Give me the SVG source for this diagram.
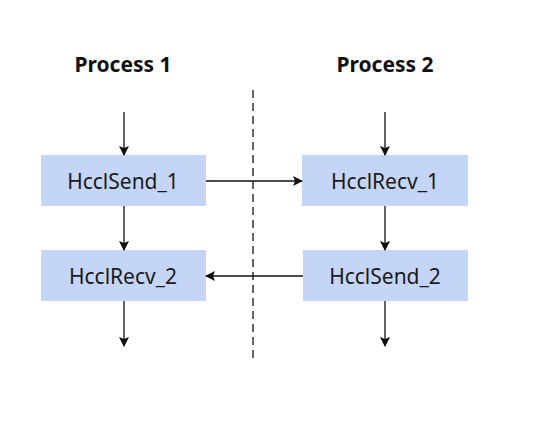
<svg xmlns="http://www.w3.org/2000/svg" width="554" height="429" viewBox="0 0 554 429">
<style>
.box{fill:#c4d5f8;}
.lbl{font-family:"Noto Sans","Open Sans",sans-serif;font-size:21px;fill:#1a1a1a;text-anchor:middle;}
.ttl{font-family:"Noto Sans","Open Sans",sans-serif;font-size:21px;font-weight:bold;fill:#111;text-anchor:middle;}
.ln{stroke:#111;stroke-width:1.3;fill:none;}
</style>
<defs>
<marker id="ah" markerWidth="10" markerHeight="10" refX="9" refY="5" orient="auto" markerUnits="userSpaceOnUse">
<path d="M0,0 L10,5 L0,10 L2,5 Z" fill="#111"/>
</marker>
</defs>
<rect width="554" height="429" fill="#fff"/>
<text class="ttl" x="123" y="72">Process 1</text>
<text class="ttl" x="385" y="72">Process 2</text>
<line x1="253" y1="90" x2="253" y2="362" stroke="#333" stroke-width="1.5" stroke-dasharray="8,5"/>
<g id="n1"><rect class="box" x="41" y="155" width="165" height="51"/><text class="lbl" x="123" y="189">HcclSend_1</text></g>
<g id="n2"><rect class="box" x="302" y="155" width="166" height="51"/><text class="lbl" x="385" y="189">HcclRecv_1</text></g>
<g id="n3"><rect class="box" x="41" y="250" width="165" height="51"/><text class="lbl" x="123" y="284">HcclRecv_2</text></g>
<g id="n4"><rect class="box" x="303" y="250" width="165" height="51"/><text class="lbl" x="385" y="284">HcclSend_2</text></g>
<g id="connectors">
<line class="ln" x1="124" y1="112" x2="124" y2="155" marker-end="url(#ah)"/>
<line class="ln" x1="124" y1="206" x2="124" y2="250" marker-end="url(#ah)"/>
<line class="ln" x1="124" y1="301" x2="124" y2="346" marker-end="url(#ah)"/>
<line class="ln" x1="385" y1="112" x2="385" y2="155" marker-end="url(#ah)"/>
<line class="ln" x1="385" y1="206" x2="385" y2="250" marker-end="url(#ah)"/>
<line class="ln" x1="385" y1="301" x2="385" y2="346" marker-end="url(#ah)"/>
<line class="ln" x1="206" y1="181" x2="302" y2="181" marker-end="url(#ah)"/>
<line class="ln" x1="303" y1="276" x2="206" y2="276" marker-end="url(#ah)"/>
</g>
</svg>
